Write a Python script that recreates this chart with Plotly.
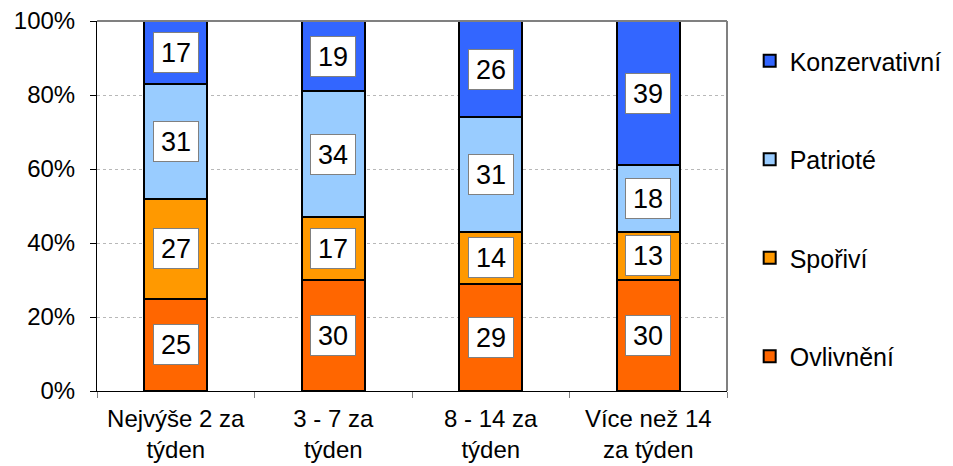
import plotly.graph_objects as go

categories = ["Nejvýše 2 za<br>týden", "3 - 7 za<br>týden", "8 - 14 za<br>týden", "Více než 14<br>za týden"]
ovlivneni = [25, 30, 29, 30]
sporivi = [27, 17, 14, 13]
patriote = [31, 34, 31, 18]
konzervativni = [17, 19, 26, 39]
y_ticks = [0, 20, 40, 60, 80, 100]
y_labels = ["0%", "20%", "40%", "60%", "80%", "100%"]

series = [
    ("Ovlivnění", ovlivneni, "#FF6600"),
    ("Spořiví", sporivi, "#FF9900"),
    ("Patrioté", patriote, "#99CCFF"),
    ("Konzervativní", konzervativni, "#3366FF"),
]

FONT = "Liberation Sans, Arial, sans-serif"

fig = go.Figure()
base = [0] * len(categories)
annotations = []
for rank, (name, vals, col) in enumerate(series):
    fig.add_trace(go.Bar(
        x=categories, y=vals, name=name, legendgroup=name,
        legendrank=len(series) - rank,
        width=0.4,
        marker=dict(color=col, line=dict(color="black", width=2)),
    ))
    for i, v in enumerate(vals):
        annotations.append(dict(
            x=categories[i], y=base[i] + v / 2, text=str(v),
            showarrow=False, xref="x", yref="y",
            font=dict(size=27, color="black", family=FONT),
            bgcolor="white", bordercolor="#808080", borderwidth=1,
            borderpad=1, width=42, height=37,
        ))
        base[i] += v

# page body has an 8px margin, so the figure is sized to fit the window
fig.update_layout(
    barmode="stack",
    width=945, height=458,
    plot_bgcolor="white", paper_bgcolor="white",
    margin=dict(l=89, r=226, t=13, b=75, autoexpand=False),
    font=dict(family=FONT, size=24, color="black"),
    annotations=annotations,
    showlegend=True,
    legend=dict(
        x=1.036, xanchor="left", y=0.954, yanchor="top",
        traceorder="grouped", tracegroupgap=63,
        font=dict(size=25, family=FONT),
        itemwidth=30,
    ),
    shapes=[
        dict(type="line", xref="paper", yref="paper", x0=0, x1=1, y0=1, y1=1,
             line=dict(color="#808080", width=2)),
        dict(type="line", xref="paper", yref="paper", x0=1, x1=1, y0=0, y1=1,
             line=dict(color="#808080", width=2)),
    ],
)
fig.update_xaxes(
    showline=True, linecolor="black", linewidth=1, automargin=False,
    ticks="outside", tickson="boundaries", ticklen=6, tickcolor="#808080",
    tickangle=0, tickfont=dict(size=24), ticklabelstandoff=6,
)
fig.update_yaxes(
    range=[0, 100], tickmode="array", tickvals=y_ticks, ticktext=y_labels,
    showgrid=True, gridcolor="#b8b8b8", griddash="dot", gridwidth=1,
    showline=True, linecolor="black", linewidth=1, automargin=False,
    ticks="outside", ticklen=6, tickcolor="black", ticklabelstandoff=10,
    ticklabeloverflow="allow",
    tickfont=dict(size=24), zeroline=False,
)

fig.write_html("out.html")
